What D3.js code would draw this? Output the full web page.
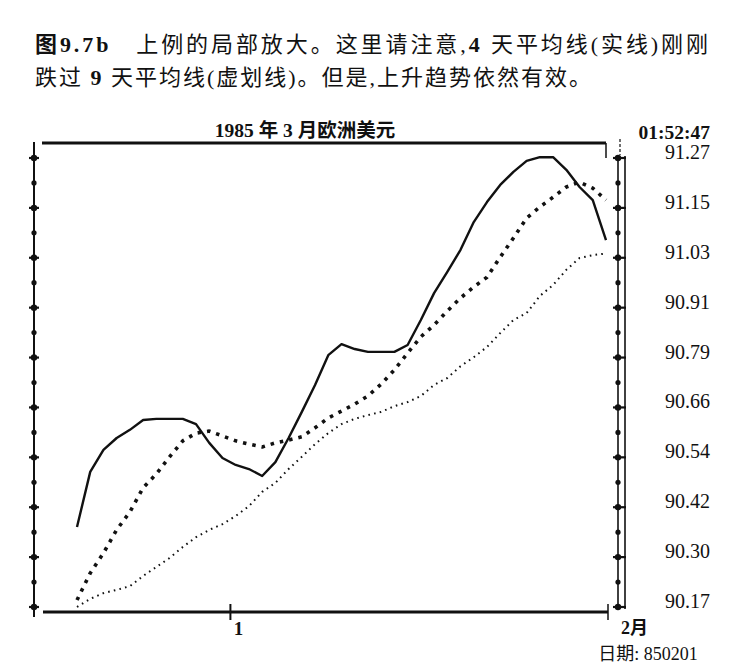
<!DOCTYPE html>
<html>
<head>
<meta charset="utf-8">
<script src="https://cdn.jsdelivr.net/npm/d3@7"></script>
<style>
  html, body { margin: 0; padding: 0; background: #fff; }
  text { fill: #111; }
</style>
</head>
<body>
<svg id="chart" width="748" height="671"></svg>
<script>
/*global d3*/
"use strict";

// 4-day moving average (solid)
var ma4 = [90.366, 90.501, 90.555, 90.584, 90.604, 90.628, 90.631, 90.631, 90.631, 90.618,
  90.572, 90.535, 90.518, 90.508, 90.491, 90.525, 90.584, 90.648, 90.714, 90.787,
  90.814, 90.802, 90.795, 90.795, 90.795, 90.812, 90.873, 90.939, 90.991, 91.045,
  91.113, 91.162, 91.204, 91.236, 91.263, 91.272, 91.272, 91.241, 91.199, 91.167,
  91.069];

// 9-day moving average (heavy dashes)
var ma9 = [90.187, 90.253, 90.302, 90.359, 90.403, 90.462, 90.496, 90.538, 90.577, 90.596,
  90.601, 90.589, 90.577, 90.569, 90.562, 90.572, 90.579, 90.587, 90.609, 90.633,
  90.650, 90.667, 90.687, 90.716, 90.751, 90.792, 90.832, 90.861, 90.895, 90.927,
  90.954, 90.978, 91.027, 91.074, 91.123, 91.150, 91.174, 91.199, 91.211, 91.196,
  91.167];

// slow moving average (fine dots)
var maSlow = [90.170, 90.190, 90.204, 90.212, 90.221, 90.246, 90.268, 90.290, 90.317, 90.341,
  90.359, 90.373, 90.393, 90.417, 90.452, 90.474, 90.508, 90.538, 90.569, 90.596,
  90.618, 90.631, 90.640, 90.648, 90.662, 90.672, 90.687, 90.714, 90.731, 90.760,
  90.782, 90.807, 90.841, 90.873, 90.890, 90.932, 90.959, 90.996, 91.025, 91.032,
  91.036];

var priceLabels = ["91.27", "91.15", "91.03", "90.91", "90.79", "90.66", "90.54", "90.42", "90.30", "90.17"];
var xTicks = [{ at: 11.6, label: "1" }];

var caption = [
  [{ t: "图9.7b", bold: true }, { t: "\u2003上例的局部放大。这里请注意," }, { t: "4", bold: true },
    { t: " 天平均线(实线)刚刚" }],
  [{ t: "跌过 " }, { t: "9", bold: true }, { t: " 天平均线(虚划线)。但是,上升趋势依然有效。" }]
];
var title = "1985 年 3 月欧洲美元";
var clock = "01:52:47";
var monthLabel = "2月";
var dateLabel = "日期: 850201";

(function () {
  var FONT = "Liberation Serif, Noto Sans CJK SC, serif",
    svg = d3.select("#chart"),
    axisL = 34,
    axisR = 618,
    plotL = 77,
    plotR = 606,
    plotT = 158,
    plotB = 607,
    x = d3.scaleLinear().domain([0, ma4.length - 1]).range([plotL, plotR]),
    y = d3.scaleLinear().domain([90.17, 91.27]).range([plotB, plotT]),
    step = (91.27 - 90.17) / (priceLabels.length - 1),
    ticks,
    frame,
    cap,
    line,
    series;

  // evenly spaced price ticks, labelled every other one
  ticks = d3.range(2 * priceLabels.length - 1).map(function (i) {
    return { v: 91.27 - i * step / 2, major: i % 2 === 0 };
  });

  // caption
  cap = svg.append("g").style("font-family", FONT).attr("font-size", 22);
  caption.forEach(function (parts, i) {
    var t = cap.append("text")
      .attr("x", 35)
      .attr("y", 52 + i * 33)
      .attr("textLength", i === 0 ? 673 : 556)
      .attr("lengthAdjust", "spacing");
    parts.forEach(function (part) {
      t.append("tspan")
        .attr("font-weight", part.bold ? "bold" : "normal")
        .text(part.t);
    });
  });

  // chart title and clock
  svg.append("text")
    .attr("x", 305).attr("y", 137)
    .attr("text-anchor", "middle")
    .style("font-family", FONT).attr("font-size", 19.5).attr("font-weight", "bold")
    .text(title);

  svg.append("text")
    .attr("x", 710).attr("y", 139)
    .attr("text-anchor", "end")
    .style("font-family", FONT).attr("font-size", 19.5).attr("font-weight", "bold")
    .text(clock);

  // frame: top bar, left axis, bottom axis
  frame = svg.append("g").attr("stroke", "#111").attr("fill", "none");
  frame.append("line").attr("x1", 42).attr("x2", plotR).attr("y1", 143).attr("y2", 143)
    .attr("stroke-width", 3);
  frame.append("line").attr("x1", plotR).attr("x2", plotR).attr("y1", 143).attr("y2", 158)
    .attr("stroke-width", 1.5);
  frame.append("line").attr("x1", axisR + 2).attr("x2", axisR + 2).attr("y1", 139).attr("y2", 155)
    .attr("stroke-width", 1.2).attr("stroke-dasharray", "3,2");

  frame.append("line").attr("x1", axisL).attr("x2", axisL).attr("y1", 142).attr("y2", 617)
    .attr("stroke-width", 2);
  frame.append("line").attr("x1", 43).attr("x2", plotR + 2).attr("y1", 612).attr("y2", 612)
    .attr("stroke-width", 3);
  frame.append("line").attr("x1", plotR + 2).attr("x2", plotR + 2).attr("y1", 604).attr("y2", 620)
    .attr("stroke-width", 1.5);

  // right double axis
  frame.append("line").attr("x1", axisR).attr("x2", axisR)
    .attr("y1", plotT - 2).attr("y2", plotB + 2).attr("stroke-width", 1.6);
  frame.append("line").attr("x1", axisR + 7).attr("x2", axisR + 7)
    .attr("y1", plotT - 2).attr("y2", plotB + 2).attr("stroke-width", 1.6);

  // ticks on left and right axes
  [axisL, axisR].forEach(function (ax) {
    var g = svg.append("g");
    g.selectAll("circle").data(ticks).enter().append("circle")
      .attr("cx", ax)
      .attr("cy", function (d) { return y(d.v); })
      .attr("r", function (d) { return d.major ? 3.2 : 2.6; })
      .attr("fill", "#111");
    g.selectAll("line").data(ticks.filter(function (d) { return d.major; })).enter()
      .append("line")
      .attr("x1", ax - 5)
      .attr("x2", ax === axisR ? ax + 8 : ax + 5)
      .attr("y1", function (d) { return y(d.v); })
      .attr("y2", function (d) { return y(d.v); })
      .attr("stroke", "#111").attr("stroke-width", 2.2);
  });

  // price labels
  svg.append("g").selectAll("text").data(priceLabels).enter().append("text")
    .attr("x", 710)
    .attr("y", function (d, i) { return y(91.27 - i * step) + 1; })
    .attr("text-anchor", "end")
    .style("font-family", FONT).attr("font-size", 20)
    .text(function (d) { return d; });

  // x ticks
  xTicks.forEach(function (tk) {
    svg.append("line")
      .attr("x1", x(tk.at)).attr("x2", x(tk.at)).attr("y1", 604).attr("y2", 620)
      .attr("stroke", "#111").attr("stroke-width", 2);
    svg.append("text")
      .attr("x", x(tk.at) + 8).attr("y", 635)
      .attr("text-anchor", "middle")
      .style("font-family", FONT).attr("font-size", 19).attr("font-weight", "bold")
      .text(tk.label);
  });

  svg.append("text")
    .attr("x", axisR + 3).attr("y", 634)
    .style("font-family", FONT).attr("font-size", 18).attr("font-weight", "bold")
    .text(monthLabel);

  svg.append("text")
    .attr("x", 648).attr("y", 660)
    .attr("text-anchor", "middle")
    .style("font-family", FONT).attr("font-size", 18)
    .text(dateLabel);

  // moving average lines
  line = d3.line()
    .x(function (d, i) { return x(i); })
    .y(function (d) { return y(d); });

  series = [
    { values: maSlow, width: 2, dash: "1.6,4.2" },
    { values: ma9, width: 3.6, dash: "3.5,6" },
    { values: ma4, width: 2.4, dash: null }
  ];

  svg.append("g").selectAll("path").data(series).enter().append("path")
    .attr("d", function (d) { return line(d.values); })
    .attr("fill", "none")
    .attr("stroke", "#111")
    .attr("stroke-width", function (d) { return d.width; })
    .attr("stroke-dasharray", function (d) { return d.dash; })
    .attr("stroke-linejoin", "round");
}());
</script>
</body>
</html>
